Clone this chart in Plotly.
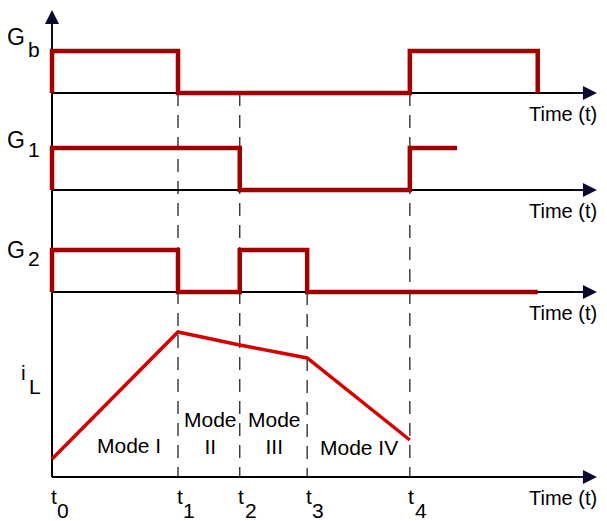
import plotly.graph_objects as go

# ---- data (time instants in arbitrary units) ----
t_labels = ["0", "1", "2", "3", "4"]
t_vals = [0.0, 2.0, 2.98, 4.05, 5.68]
t_axis_end = 8.65

gb_t = [0.0, 0.0, 2.0, 5.68, 7.71]
gb_v = [0, 1, 0, 1, 0]
g1_t = [0.0, 0.0, 2.98, 5.68, 6.43]
g1_v = [0, 1, 0, 1, 1]
g2_t = [0.0, 0.0, 2.0, 2.98, 4.05, 7.71]
g2_v = [0, 1, 0, 1, 0, 0]
il_t = [0.0, 2.0, 2.98, 4.05, 5.68]
il_v = [0.18, 1.45, 1.32, 1.19, 0.37]

mode_text = ["Mode I", "Mode<br>II", "Mode<br>III", "Mode IV"]

# ---- layout constants (page pixels; y measured downward) ----
X0, SX, OFF = 52.0, 63.0, 8.0   # axis origin px, px per time unit, page body margin


def X(px):
    return (px - X0) / SX


base = {"Gb": 93, "G1": 190, "G2": 292, "iL": 477}
amp = 42
il_scale = 100
DARK = "#a00000"
RED = "#d40000"
FONT = "Arial, Liberation Sans, sans-serif"

fig = go.Figure()

# dashed guide lines
dash_spec = [(t_vals[1], base["Gb"]), (t_vals[2], base["Gb"]), (t_vals[3], base["G2"]), (t_vals[4], base["Gb"])]
for tx, ytop in dash_spec:
    fig.add_trace(go.Scatter(x=[tx, tx], y=[ytop, base["iL"]], mode="lines",
                             line=dict(color="#333333", width=1.4, dash="13px,9px"),
                             hoverinfo="skip", showlegend=False))

# time axes (baselines)
for k in ["Gb", "G1", "G2", "iL"]:
    fig.add_trace(go.Scatter(x=[0, t_axis_end - 0.15], y=[base[k], base[k]], mode="lines",
                             line=dict(color="black", width=2), hoverinfo="skip", showlegend=False))
# vertical axis
fig.add_trace(go.Scatter(x=[0, 0], y=[base["iL"], 18], mode="lines",
                         line=dict(color="black", width=2), hoverinfo="skip", showlegend=False))

# gate signals
for ts, vs, k in [(gb_t, gb_v, "Gb"), (g1_t, g1_v, "G1"), (g2_t, g2_v, "G2")]:
    fig.add_trace(go.Scatter(x=ts, y=[base[k] - v * amp for v in vs], mode="lines",
                             line=dict(color=DARK, width=4.5), line_shape="hv",
                             hoverinfo="skip", showlegend=False))

# inductor current
fig.add_trace(go.Scatter(x=il_t, y=[base["iL"] - v * il_scale for v in il_v], mode="lines",
                         line=dict(color=RED, width=3.5), hoverinfo="skip", showlegend=False))

ann = []


def txt(x, y, s, size=21, xanchor="center"):
    ann.append(dict(x=x, y=y, xref="x", yref="y", text=s, showarrow=False, xanchor=xanchor,
                    yanchor="middle", font=dict(family=FONT, size=size, color="black")))


# arrowheads + axis titles
for k in ["Gb", "G1", "G2", "iL"]:
    ann.append(dict(x=t_axis_end, y=base[k], ax=t_axis_end - 0.4, ay=base[k], xref="x", yref="y",
                    axref="x", ayref="y", text="", showarrow=True, arrowhead=2, arrowsize=1.4,
                    arrowwidth=2, arrowcolor="#0a0a30"))
    txt(X(563), base[k] + 21, "Time (t)", size=20)
ann.append(dict(x=0, y=10, ax=0, ay=50, xref="x", yref="y", axref="x", ayref="y", text="",
                showarrow=True, arrowhead=2, arrowsize=1.4, arrowwidth=2, arrowcolor="#0a0a30"))

# signal names (letter + subscript drawn separately)
for main, sub, ym, ys in [("G", "b", 37, 49), ("G", "1", 139.5, 149.5), ("G", "2", 249.5, 258.5)]:
    txt(X(16), ym, main, size=23)
    txt(X(34), ys, sub, size=21)
txt(X(23.5), 372.5, "i", size=21)
txt(X(34.5), 386.5, "L", size=21)

# time instant labels
for nm, tv in zip(t_labels, t_vals):
    txt(tv + 1.5 / SX, 496, "t", size=21)
    txt(tv + 11 / SX, 510, nm, size=21)

# mode labels
mode_pos = [(X(128.5), 445), (X(210), 433), (X(274), 433), (X(358.5), 447)]
for s, (xx, yy) in zip(mode_text, mode_pos):
    txt(xx, yy, s, size=21)

fig.update_layout(
    width=607, height=521,
    margin=dict(l=0, r=0, t=0, b=0),
    paper_bgcolor="white", plot_bgcolor="white",
    xaxis=dict(range=[X(OFF), X(607 + OFF)], visible=False, fixedrange=True),
    yaxis=dict(range=[521 + OFF, OFF], visible=False, fixedrange=True),
    annotations=ann,
    showlegend=False,
)

fig.write_html("out.html")
